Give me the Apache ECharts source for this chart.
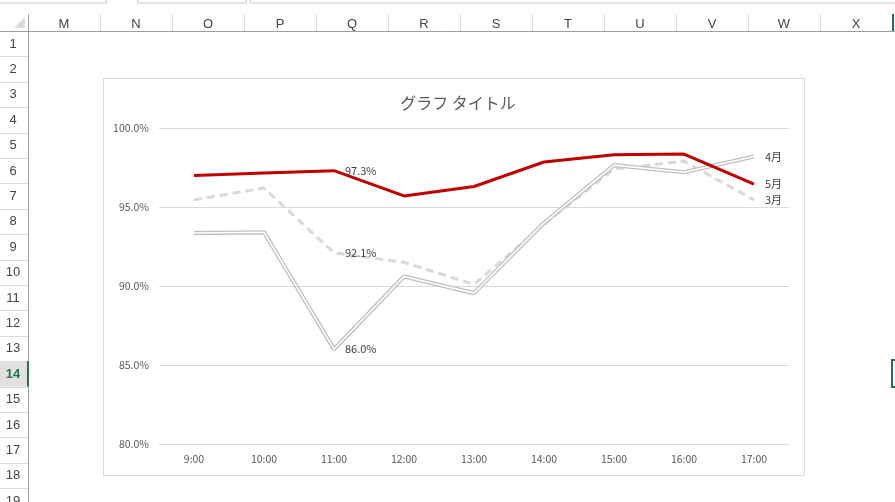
<!DOCTYPE html>
<html><head><meta charset="utf-8">
<script src="https://cdn.jsdelivr.net/npm/echarts@6/dist/echarts.min.js"></script>
<style>html,body{margin:0;padding:0;background:#fff}#c{width:895px;height:502px}</style>
</head><body><div id="c"></div>
<script>
const categories = ['9:00','10:00','11:00','12:00','13:00','14:00','15:00','16:00','17:00'];
const march = [95.45, 96.2, 92.1, 91.5, 90.1, 93.9, 97.4, 97.9, 95.45];
const april = [93.35, 93.4, 86.0, 90.6, 89.55, 94.0, 97.65, 97.2, 98.2];
const may = [97.0, 97.15, 97.3, 95.7, 96.3, 97.85, 98.3, 98.35, 96.45];
const seriesNames = ['3月','4月','5月'];
const colLetters = ['M','N','O','P','Q','R','S','T','U','V','W','X'];
const rowNumbers = [1,2,3,4,5,6,7,8,9,10,11,12,13,14,15,16,17,18,19];
const labelIndex = 2;

const chart = echarts.init(document.getElementById('c'), null, {renderer:'canvas'});
const font = '"Noto Sans CJK JP", "Noto Sans", sans-serif';

const g = [];
g.push({type:'rect', shape:{x:0,y:0,width:895,height:502}, style:{fill:'#fff'}, z:-10, silent:true});
g.push({type:'rect', shape:{x:-2,y:-3,width:108,height:6}, style:{fill:'#fff',stroke:'#c6c6c6',lineWidth:1}, z:-9});
g.push({type:'rect', shape:{x:137.5,y:-3,width:109,height:6}, style:{fill:'#fff',stroke:'#c6c6c6',lineWidth:1}, z:-9});
g.push({type:'rect', shape:{x:250.5,y:-3,width:650,height:6}, style:{fill:'#fff',stroke:'#c6c6c6',lineWidth:1}, z:-9});
g.push({type:'line', shape:{x1:0,y1:31.5,x2:895,y2:31.5}, style:{stroke:'#9f9f9f',lineWidth:1}, z:-8});
g.push({type:'line', shape:{x1:28.5,y1:14,x2:28.5,y2:502}, style:{stroke:'#9f9f9f',lineWidth:1}, z:-8});
g.push({type:'polygon', shape:{points:[[25,17],[25,28],[14,28]]}, style:{fill:'#dcdcdc'}, z:-8});
colLetters.forEach((c,i)=>{
  const x0 = 28 + i*72;
  g.push({type:'line', shape:{x1:x0+72.5,y1:14,x2:x0+72.5,y2:31}, style:{stroke:'#dadada',lineWidth:1}, z:-8});
  g.push({type:'text', x:x0+36, y:24, style:{text:c, fill:'#444', font:'13px "Liberation Sans", sans-serif', textAlign:'center', textVerticalAlign:'middle'}, z:-7});
});
rowNumbers.forEach((r,i)=>{
  const y0 = 31 + i*25.4;
  if (r===14) {
    g.push({type:'rect', shape:{x:0,y:y0,width:28,height:25.4}, style:{fill:'#e1e1e1'}, z:-8});
    g.push({type:'line', shape:{x1:28,y1:y0,x2:28,y2:y0+25.4}, style:{stroke:'#217346',lineWidth:2}, z:-6});
  }
  g.push({type:'line', shape:{x1:0,y1:Math.round(y0+25.4)+0.5,x2:28,y2:Math.round(y0+25.4)+0.5}, style:{stroke:'#dadada',lineWidth:1}, z:-8});
  g.push({type:'text', x:13, y:y0+13, style:{text:String(r), fill: r===14?'#217346':'#444', font:(r===14?'bold ':'')+'13px "Liberation Sans", sans-serif', textAlign:'center', textVerticalAlign:'middle'}, z:-7});
});
g.push({type:'rect', shape:{x:892,y:360,width:6,height:27}, style:{fill:'none',stroke:'#217346',lineWidth:2}, z:-6});
g.push({type:'line', shape:{x1:893,y1:14,x2:893,y2:31}, style:{stroke:'#217346',lineWidth:2}, z:-6});
g.push({type:'rect', shape:{x:103.5,y:78.5,width:701,height:397}, style:{fill:'#fff',stroke:'#d9d9d9',lineWidth:1}, z:-5});

function mkData(arr, name){
  return arr.map((v,i)=>{
    const lab = {show:false};
    if (i===labelIndex) { lab.show = true; lab.formatter = v.toFixed(1)+'%'; }
    if (i===arr.length-1) { lab.show = true; lab.formatter = name; }
    return {value:v, label:lab};
  });
}
const labelStyle = {show:false, position:'right', distance:10, color:'#404040', fontSize:11, fontFamily:font};
const hiddenSym = {symbol:'circle', symbolSize:2, showSymbol:true, itemStyle:{color:'rgba(0,0,0,0)', borderWidth:0}};

chart.setOption({
  animation:false,
  graphic:g,
  title:{text:'グラフ タイトル', left:453, top:90, textAlign:'center',
    textStyle:{fontFamily:font, fontSize:16, fontWeight:'normal', color:'#595959'}},
  grid:{left:159, right:106, top:128, bottom:58, containLabel:false},
  xAxis:{type:'category', data:categories, boundaryGap:true,
    axisLine:{show:true, lineStyle:{color:'#d9d9d9'}}, axisTick:{show:false},
    axisLabel:{color:'#595959', fontSize:10.5, fontFamily:font, margin:10}},
  yAxis:{type:'value', min:80, max:100, interval:5,
    axisLine:{show:false}, axisTick:{show:false},
    splitLine:{lineStyle:{color:'#d9d9d9', width:1}},
    axisLabel:{color:'#595959', fontSize:10.5, fontFamily:font, margin:10,
      formatter:v=>v.toFixed(1)+'%'}},
  series:[
    Object.assign({name:seriesNames[0], type:'line', data:mkData(march, seriesNames[0]),
      lineStyle:{color:'#d9d9d9', width:3, type:[8,5]}, label:labelStyle, z:2}, hiddenSym),
    Object.assign({name:seriesNames[1], type:'line', data:mkData(april, seriesNames[1]),
      lineStyle:{color:'#bfbfbf', width:4.2}, label:labelStyle, z:3}, hiddenSym),
    {name:seriesNames[1]+'_inner', type:'line', data:april, symbol:'none', silent:true,
      lineStyle:{color:'#ffffff', width:1.6}, label:{show:false}, z:4},
    Object.assign({name:seriesNames[2], type:'line', data:mkData(may, seriesNames[2]),
      lineStyle:{color:'#c00000', width:3}, label:labelStyle, z:5}, hiddenSym)
  ]
});
</script></body></html>
